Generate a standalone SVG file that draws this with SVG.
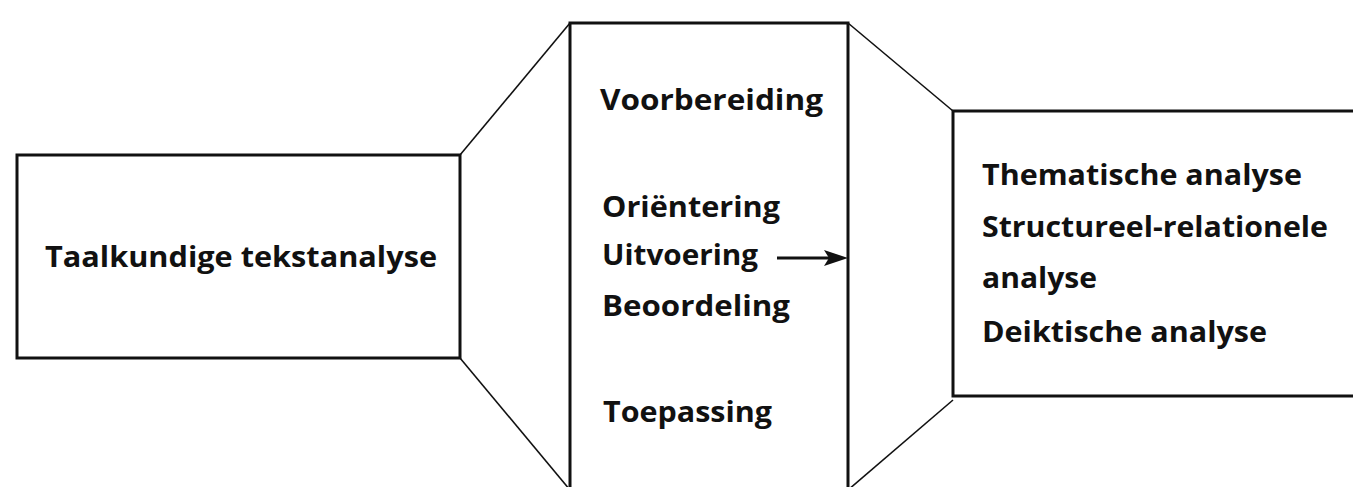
<svg xmlns="http://www.w3.org/2000/svg" width="1353" height="487" viewBox="0 0 1353 487">
<style>
.box{fill:none;stroke:#111;stroke-width:3}
.con{fill:none;stroke:#111;stroke-width:1.6}
.t{font-family:"Open Sans","Liberation Sans",sans-serif;font-weight:700;font-size:29px;fill:#111}
</style>
<rect width="1353" height="487" fill="#fff"/>
<g id="connectors">
<line class="con" x1="460" y1="155" x2="570" y2="23"/>
<line class="con" x1="460" y1="358" x2="570" y2="490"/>
<line class="con" x1="848" y1="23" x2="953" y2="111"/>
<line class="con" x1="953" y1="400" x2="848" y2="490"/>
<line x1="777" y1="258" x2="832" y2="258" stroke="#111" stroke-width="3"/>
<polygon points="824,250 848,258 824,266 829,258" fill="#111"/>
</g>
<g id="node-taalkundige">
<rect class="box" x="17" y="155" width="443" height="203"/>
<text class="t" x="45" y="267" textLength="392" lengthAdjust="spacingAndGlyphs">Taalkundige tekstanalyse</text>
</g>
<g id="node-fasen">
<path class="box" d="M570,495 L570,23 L848,23 L848,495"/>
<text class="t" x="600" y="110" textLength="223" lengthAdjust="spacingAndGlyphs">Voorbereiding</text>
<text class="t" x="602" y="217" textLength="178" lengthAdjust="spacingAndGlyphs">Oriëntering</text>
<text class="t" x="602" y="265" textLength="156" lengthAdjust="spacingAndGlyphs">Uitvoering</text>
<text class="t" x="602" y="316" textLength="188" lengthAdjust="spacingAndGlyphs">Beoordeling</text>
<text class="t" x="603" y="422" textLength="169" lengthAdjust="spacingAndGlyphs">Toepassing</text>
</g>
<g id="node-analyses">
<path class="box" d="M1360,111 L953,111 L953,396 L1360,396"/>
<text class="t" x="982" y="185" textLength="320" lengthAdjust="spacingAndGlyphs">Thematische analyse</text>
<text class="t" x="982" y="237" textLength="346" lengthAdjust="spacingAndGlyphs">Structureel-relationele</text>
<text class="t" x="982" y="288" textLength="115" lengthAdjust="spacingAndGlyphs">analyse</text>
<text class="t" x="982" y="342" textLength="285" lengthAdjust="spacingAndGlyphs">Deiktische analyse</text>
</g>
</svg>
